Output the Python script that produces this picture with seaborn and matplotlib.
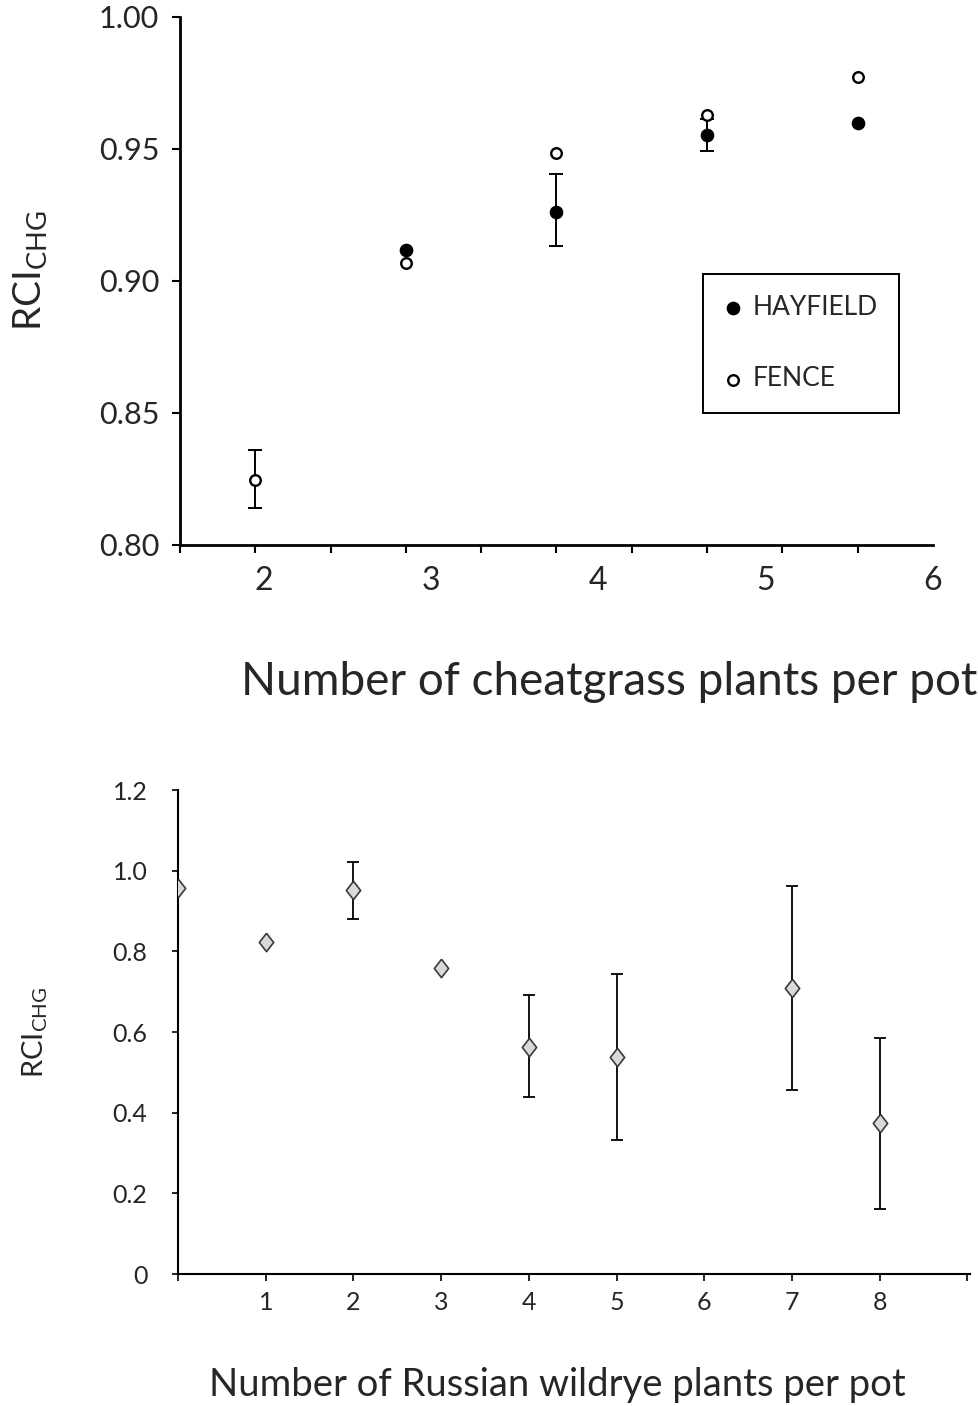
import numpy as np
import pandas as pd
import matplotlib
matplotlib.use("Agg")
import matplotlib.pyplot as plt
import seaborn as sns

# ---- data: top panel (RCI_CHG vs number of cheatgrass plants per pot)
top_x_fence = [1.95, 2.85, 3.75, 4.65, 5.55]
top_fence = [0.8247, 0.9069, 0.9484, 0.9629, 0.9771]
top_x_hay = [2.85, 3.75, 4.65, 5.55]
top_hay = [0.9118, 0.9263, 0.9552, 0.9599]
# error bars (x, y, lower, upper)
top_err_x = [1.95, 3.75, 4.65]
top_err_y = [0.8247, 0.9263, 0.9552]
top_err_lo = [0.8142, 0.9133, 0.9492]
top_err_hi = [0.8359, 0.9407, 0.9612]
top_xticks = [2, 3, 4, 5, 6]
top_yticks = [0.80, 0.85, 0.90, 0.95, 1.00]
top_yticklabels = ["0.80", "0.85", "0.90", "0.95", "1.00"]

# ---- data: bottom panel (RCI_CHG vs number of Russian wildrye plants per pot)
bot_x = [0, 1, 2, 3, 4, 5, 7, 8]
bot_y = [0.956, 0.824, 0.951, 0.759, 0.562, 0.537, 0.708, 0.374]
bot_err_x = [2, 4, 5, 7, 8]
bot_err_y = [0.951, 0.562, 0.537, 0.708, 0.374]
bot_err_lo = [0.879, 0.438, 0.333, 0.456, 0.162]
bot_err_hi = [1.021, 0.691, 0.744, 0.962, 0.585]
bot_xticklabels = ["", "1", "2", "3", "4", "5", "6", "7", "8", ""]
bot_yticks = [0, 0.2, 0.4, 0.6, 0.8, 1.0, 1.2]
bot_yticklabels = ["0", "0.2", "0.4", "0.6", "0.8", "1.0", "1.2"]

sns.set_theme(style="ticks")
plt.rcParams["font.family"] = ["Lato", "DejaVu Sans"]
plt.rcParams["mathtext.fontset"] = "custom"
plt.rcParams["mathtext.rm"] = "Lato"

fig = plt.figure(figsize=(9.79, 14.06), dpi=100)
W, H = 979, 1406

def add_ax(l, r, t, b):
    return fig.add_axes([l / W, 1 - b / H, (r - l) / W, (b - t) / H])

# ================= TOP =================
ax1 = add_ax(180, 933, 17, 545)
df_f = pd.DataFrame({"x": top_x_fence, "y": top_fence})
df_h = pd.DataFrame({"x": top_x_hay, "y": top_hay})
ax1.errorbar(top_err_x, top_err_y,
             yerr=[np.array(top_err_y) - np.array(top_err_lo),
                   np.array(top_err_hi) - np.array(top_err_y)],
             fmt="none", ecolor="black", elinewidth=1.4, capsize=5, capthick=1.4, zorder=2)
sns.scatterplot(data=df_h, x="x", y="y", ax=ax1, marker="o", s=78,
                color="black", edgecolor="black", linewidth=1.0, label="HAYFIELD", zorder=3)
sns.scatterplot(data=df_f, x="x", y="y", ax=ax1, marker="o", s=58,
                color="white", edgecolor="black", linewidth=1.7, label="FENCE", zorder=4)
ax1.set_xlim(1.5, 6.0)
ax1.set_ylim(0.80, 1.00)
ax1.set_xticks(top_xticks)
ax1.set_xticklabels([str(v) for v in top_xticks], fontsize=23)
ax1.set_xticks([1.5 + 0.45 * k for k in range(11)], minor=True)
ax1.tick_params(axis="x", which="major", length=0, pad=15)
ax1.tick_params(axis="x", which="minor", length=6, width=1.5, color="black", direction="out")
ax1.set_yticks(top_yticks)
ax1.set_yticklabels(top_yticklabels, fontsize=22)
ax1.tick_params(axis="y", length=6, width=1.5, color="black", pad=9)
for s in ["top", "right"]:
    ax1.spines[s].set_visible(False)
for s in ["left", "bottom"]:
    ax1.spines[s].set_linewidth(2)
    ax1.spines[s].set_color("black")
ax1.set_xlabel("")
ax1.set_ylabel(r"RCI$_{\mathregular{CHG}}$", fontsize=28)
ax1.yaxis.set_label_coords(-0.172, 0.52)
leg = ax1.legend(loc="upper left", bbox_to_anchor=(0.6946, 0.513), fontsize=19,
                 frameon=True, fancybox=False, edgecolor="black", framealpha=1,
                 handletextpad=0.38, labelspacing=1.75, borderpad=0.8,
                 handlelength=0.7, borderaxespad=0)
leg.get_frame().set_linewidth(1.4)
fig.text(609 / W, 1 - 682 / H, "Number of cheatgrass plants per pot",
         ha="center", va="center", fontsize=33)

# ================= BOTTOM =================
ax2 = add_ax(178, 970, 790, 1274)
diamond = [(0, 1), (0.78, 0), (0, -1), (-0.78, 0), (0, 1)]
ax2.errorbar(bot_err_x, bot_err_y,
             yerr=[np.array(bot_err_y) - np.array(bot_err_lo),
                   np.array(bot_err_hi) - np.array(bot_err_y)],
             fmt="none", ecolor="black", elinewidth=1.3, capsize=4, capthick=1.3, zorder=2)
df_b = pd.DataFrame({"x": bot_x, "y": bot_y})
sns.scatterplot(data=df_b, x="x", y="y", ax=ax2, marker=diamond, s=175,
                color="#d9d9d9", edgecolor="#3a3a3a", linewidth=1.2, zorder=3, legend=False)
ax2.set_xlim(0, 9.03)
ax2.set_ylim(0, 1.2)
ax2.set_xticks(list(range(10)))
ax2.set_xticklabels(bot_xticklabels, fontsize=18)
ax2.tick_params(axis="x", length=5, width=1.2, color="black", pad=7)
ax2.set_yticks(bot_yticks)
ax2.set_yticklabels(bot_yticklabels, fontsize=18)
ax2.tick_params(axis="y", length=4, width=1.2, color="black", pad=18)
for s in ["top", "right"]:
    ax2.spines[s].set_visible(False)
for s in ["left", "bottom"]:
    ax2.spines[s].set_linewidth(1.5)
    ax2.spines[s].set_color("black")
ax2.set_xlabel("")
ax2.set_ylabel(r"RCI$_{\mathregular{CHG}}$", fontsize=21)
ax2.yaxis.set_label_coords(-0.162, 0.5)
fig.text(557 / W, 1 - 1385 / H, "Number of Russian wildrye plants per pot",
         ha="center", va="center", fontsize=27.5)

fig.savefig("out.png", dpi=100)
